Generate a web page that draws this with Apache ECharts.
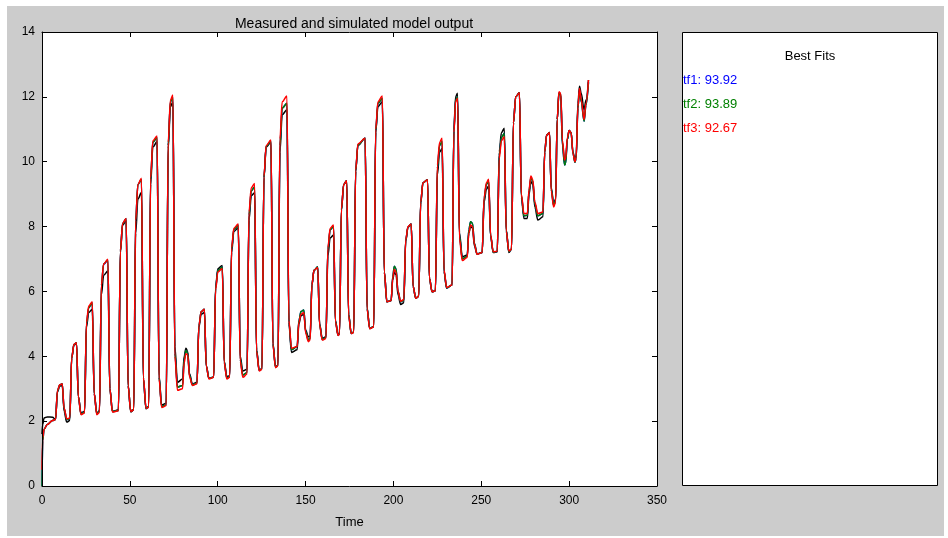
<!DOCTYPE html>
<html>
<head>
<meta charset="utf-8">
<script src="https://cdn.jsdelivr.net/npm/echarts@6/dist/echarts.min.js"></script>
<style>
html,body{margin:0;padding:0;background:#fff;}
#bg{position:absolute;left:7px;top:6px;width:937px;height:530px;background:#cccccc;}
#plotbg{position:absolute;left:42px;top:32px;width:615px;height:454px;background:#ffffff;}
#chart{position:absolute;left:0;top:0;width:948px;height:538px;}
</style>
</head>
<body>
<div id="bg"></div>
<div id="plotbg"></div>
<div id="chart"></div>
<script>
// sample times (shared by all series)
const time = [
0, 0.4, 1.2, 3, 6,
7.7, 8.8, 10.1, 11.5, 12.6, 14.1,
15.8, 16.9, 18.2, 19.6, 20.7, 22.2,
24.2, 25.3, 26.6, 28.6, 29.7, 31.2,
32.7, 33.8, 35.1, 37.5, 38.6, 40.1,
43.5, 44.6, 45.9, 47.9, 49.0, 50.5,
52.2, 53.3, 54.6, 56.6, 57.7, 59.2,
60.7, 61.8, 63.1, 65.5, 66.6, 68.1,
70.7, 71.8, 73.1, 74.5, 75.6, 77.1,
80.0, 80.9, 81.9, 82.9, 84.0, 85.6,
88.2, 89.3, 90.6, 92.4, 93.5, 95.0,
97.7, 98.8, 100.1, 102.6, 103.7, 105.2,
106.8, 107.9, 109.2, 111.7, 112.8, 114.3,
116.7, 117.8, 119.1, 121.0, 122.1, 123.6,
125.2, 126.3, 127.6, 130.3, 131.4, 132.9,
134.3, 135.4, 136.7, 139.4, 140.5, 142.0,
145.2, 146.2, 147.4, 149.0, 150.1, 151.6,
152.6, 153.6, 154.8, 156.9, 158.0, 159.5,
161.6, 162.7, 164.0, 165.9, 167.0, 168.5,
169.3, 170.4, 171.7, 173.4, 174.5, 176.0,
177.4, 178.5, 179.8, 183.9, 185.0, 186.5,
188.8, 189.9, 191.2, 193.7, 194.8, 196.3,
198.7, 199.6, 200.5, 201.5, 202.6, 204.1,
205.9, 207.0, 208.3, 210.1, 211.2, 212.7,
214.4, 215.5, 216.8, 219.4, 220.5, 222.0,
223.9, 225.0, 226.3, 227.7, 228.8, 230.3,
233.4, 234.4, 235.4, 236.5, 237.6, 239.2,
242.0, 242.9, 243.9, 245.0, 246.1, 247.6,
250.5, 251.6, 252.9, 254.2, 255.3, 256.8,
259.1, 260.2, 261.5, 263.1, 264.2, 265.7,
267.2, 268.3, 269.6, 271.7, 272.8, 274.3,
276.2, 277.2, 278.2, 279.3, 280.5, 282.2,
285.1, 286.1, 287.2, 288.8, 289.8, 291.2,
292.3, 293.2, 294.2, 295.2, 296.2, 297.4,
298.0, 299.0, 300.0, 301.1, 302.2, 303.3,
304.0, 305.0, 305.9, 306.9, 308.5, 309.6, 311.0
];

// measured output (black)
const measured = [
1.6, 1.9, 2.1, 2.13, 2.12,
2.05, 2.9, 3.08, 3.1, 2.3, 1.97,
2.02, 3.95, 4.35, 4.4, 2.75, 2.25,
2.3, 4.9, 5.35, 5.45, 2.85, 2.25,
2.32, 5.9, 6.5, 6.63, 3.0, 2.3,
2.35, 7.2, 8.05, 8.18, 3.1, 2.28,
2.35, 7.8, 8.85, 9.05, 3.3, 2.38,
2.45, 9.3, 10.45, 10.62, 3.4, 2.5,
2.55, 10.4, 11.7, 11.85, 4.3, 3.2,
3.3, 4.0, 4.25, 4.15, 3.45, 3.15,
3.2, 4.9, 5.3, 5.35, 3.7, 3.32,
3.35, 6.15, 6.7, 6.8, 3.85, 3.37,
3.4, 7.2, 7.85, 7.96, 4.0, 3.55,
3.6, 8.2, 8.95, 9.04, 4.2, 3.58,
3.62, 9.5, 10.45, 10.6, 4.4, 3.68,
3.72, 10.3, 11.45, 11.6, 5.0, 4.12,
4.2, 5.0, 5.25, 5.3, 4.8, 4.6,
4.62, 6.2, 6.65, 6.74, 5.0, 4.55,
4.6, 7.1, 7.65, 7.74, 5.1, 4.66,
4.7, 8.5, 9.3, 9.41, 5.3, 4.71,
4.75, 9.7, 10.5, 10.72, 5.5, 4.86,
4.92, 10.9, 11.7, 11.85, 6.6, 5.68,
5.72, 6.35, 6.6, 6.5, 5.9, 5.6,
5.65, 7.55, 7.98, 8.08, 6.15, 5.79,
5.85, 8.7, 9.35, 9.44, 6.4, 5.99,
6.02, 9.6, 10.3, 10.41, 6.6, 6.1,
6.2, 11.0, 12.0, 12.11, 7.8, 7.07,
7.12, 7.8, 8.0, 7.95, 7.4, 7.15,
7.2, 8.75, 9.15, 9.25, 7.7, 7.2,
7.22, 10.3, 10.9, 11.03, 7.9, 7.2,
7.3, 11.2, 12.0, 12.13, 8.9, 8.25,
8.25, 9.0, 9.39, 9.3, 8.6, 8.2,
8.3, 10.3, 10.82, 10.9, 9.2, 8.72,
8.85, 11.3, 12.1, 12.1, 10.6, 10.0,
10.05, 10.7, 10.96, 10.9, 10.3, 10.05,
10.2, 11.8, 12.33, 12.1, 11.6, 11.9, 12.52
];

// tf1 simulated (blue)
const tf1 = [
0, 1.4, 1.75, 1.9, 2.02,
2.05, 2.93, 3.12, 3.15, 2.38, 2.05,
2.08, 3.95, 4.36, 4.42, 2.75, 2.22,
2.27, 5.0, 5.5, 5.64, 2.85, 2.22,
2.3, 6.2, 6.84, 6.96, 3.0, 2.3,
2.33, 7.25, 8.1, 8.24, 3.1, 2.32,
2.36, 8.2, 9.3, 9.45, 3.3, 2.4,
2.44, 9.45, 10.6, 10.75, 3.35, 2.45,
2.5, 10.5, 11.85, 12.0, 4.1, 3.05,
3.1, 3.9, 4.18, 4.1, 3.4, 3.12,
3.17, 4.95, 5.38, 5.45, 3.7, 3.32,
3.36, 6.1, 6.65, 6.75, 3.82, 3.33,
3.37, 7.3, 7.92, 8.04, 3.9, 3.42,
3.5, 8.35, 9.1, 9.22, 4.18, 3.57,
3.61, 9.52, 10.48, 10.64, 4.38, 3.67,
3.71, 10.5, 11.65, 11.8, 5.05, 4.2,
4.3, 5.1, 5.38, 5.43, 4.75, 4.5,
4.55, 6.2, 6.65, 6.76, 4.97, 4.52,
4.57, 7.3, 7.9, 8.0, 5.08, 4.65,
4.69, 8.52, 9.3, 9.41, 5.27, 4.7,
4.74, 9.72, 10.52, 10.72, 5.47, 4.86,
4.91, 10.95, 11.8, 11.95, 6.6, 5.68,
5.72, 6.45, 6.78, 6.7, 6.0, 5.68,
5.73, 7.58, 7.99, 8.08, 6.15, 5.79,
5.85, 8.75, 9.35, 9.44, 6.4, 5.99,
6.02, 9.8, 10.5, 10.62, 6.62, 6.11,
6.2, 10.95, 11.9, 12.0, 7.7, 7.0,
7.08, 7.9, 8.15, 8.1, 7.48, 7.16,
7.2, 8.85, 9.3, 9.4, 7.72, 7.21,
7.23, 10.2, 10.75, 10.88, 7.87, 7.23,
7.3, 11.2, 12.0, 12.13, 8.95, 8.33,
8.35, 9.1, 9.5, 9.4, 8.7, 8.33,
8.4, 10.3, 10.82, 10.9, 9.15, 8.65,
8.8, 11.3, 12.13, 12.05, 10.5, 9.9,
9.95, 10.7, 10.96, 10.9, 10.25, 9.98,
10.1, 11.65, 12.2, 11.85, 11.25, 11.75, 12.45
];

// tf2 simulated (green)
const tf2 = [
0, 1.4, 1.75, 1.9, 2.02,
2.05, 2.93, 3.12, 3.15, 2.38, 2.05,
2.08, 3.95, 4.36, 4.42, 2.75, 2.22,
2.27, 5.0, 5.5, 5.65, 2.85, 2.22,
2.3, 6.2, 6.85, 6.97, 3.0, 2.3,
2.33, 7.25, 8.1, 8.24, 3.1, 2.32,
2.36, 8.2, 9.3, 9.45, 3.3, 2.4,
2.44, 9.45, 10.6, 10.75, 3.35, 2.45,
2.5, 10.5, 11.85, 12.0, 4.1, 3.05,
3.1, 3.9, 4.18, 4.1, 3.4, 3.12,
3.17, 4.95, 5.38, 5.45, 3.7, 3.32,
3.36, 6.1, 6.65, 6.75, 3.82, 3.33,
3.37, 7.3, 7.92, 8.04, 3.9, 3.42,
3.5, 8.35, 9.1, 9.22, 4.18, 3.57,
3.61, 9.52, 10.48, 10.64, 4.38, 3.67,
3.71, 10.5, 11.65, 11.8, 5.05, 4.2,
4.3, 5.1, 5.38, 5.43, 4.75, 4.5,
4.55, 6.2, 6.65, 6.76, 4.97, 4.52,
4.57, 7.3, 7.9, 8.0, 5.08, 4.65,
4.69, 8.52, 9.3, 9.41, 5.27, 4.7,
4.74, 9.72, 10.52, 10.72, 5.47, 4.86,
4.91, 10.95, 11.8, 11.95, 6.6, 5.68,
5.72, 6.45, 6.78, 6.7, 6.0, 5.68,
5.73, 7.58, 7.99, 8.08, 6.15, 5.79,
5.85, 8.75, 9.35, 9.44, 6.4, 5.99,
6.02, 9.8, 10.5, 10.62, 6.62, 6.11,
6.2, 10.95, 11.9, 12.0, 7.7, 7.0,
7.08, 7.9, 8.15, 8.1, 7.48, 7.16,
7.2, 8.85, 9.3, 9.4, 7.72, 7.21,
7.23, 10.2, 10.75, 10.88, 7.87, 7.23,
7.3, 11.2, 12.0, 12.13, 8.95, 8.33,
8.35, 9.1, 9.5, 9.4, 8.7, 8.33,
8.4, 10.3, 10.82, 10.9, 9.15, 8.65,
8.8, 11.3, 12.13, 12.05, 10.5, 9.9,
9.95, 10.7, 10.96, 10.9, 10.25, 9.98,
10.1, 11.65, 12.2, 11.85, 11.25, 11.75, 12.45
];

// tf3 simulated (red)
const tf3 = [
0.5, 1.5, 1.75, 1.9, 2.02,
2.05, 2.95, 3.12, 3.15, 2.4, 2.07,
2.1, 3.95, 4.37, 4.42, 2.75, 2.2,
2.25, 5.05, 5.55, 5.68, 2.85, 2.2,
2.27, 6.2, 6.85, 6.99, 3.0, 2.28,
2.32, 7.25, 8.1, 8.25, 3.1, 2.3,
2.35, 8.2, 9.3, 9.49, 3.35, 2.4,
2.42, 9.5, 10.65, 10.79, 3.3, 2.42,
2.48, 10.6, 11.9, 12.06, 4.0, 2.95,
3.0, 3.8, 4.08, 4.05, 3.35, 3.1,
3.15, 4.95, 5.38, 5.45, 3.7, 3.3,
3.35, 6.05, 6.6, 6.71, 3.8, 3.3,
3.35, 7.35, 7.95, 8.08, 3.85, 3.35,
3.45, 8.45, 9.2, 9.33, 4.15, 3.55,
3.6, 9.55, 10.5, 10.67, 4.35, 3.65,
3.7, 10.7, 11.85, 12.03, 5.1, 4.25,
4.3, 5.05, 5.3, 5.35, 4.7, 4.45,
4.5, 6.2, 6.65, 6.74, 4.95, 4.5,
4.55, 7.35, 7.95, 8.05, 5.05, 4.64,
4.68, 8.55, 9.3, 9.41, 5.25, 4.7,
4.73, 9.75, 10.55, 10.72, 5.45, 4.85,
4.9, 11.0, 11.85, 12.03, 6.6, 5.68,
5.72, 6.4, 6.68, 6.6, 6.0, 5.7,
5.75, 7.6, 8.0, 8.08, 6.15, 5.79,
5.85, 8.75, 9.35, 9.44, 6.4, 5.99,
6.02, 9.9, 10.6, 10.72, 6.65, 6.12,
6.2, 10.9, 11.85, 11.96, 7.6, 6.95,
7.05, 7.8, 8.05, 8.0, 7.45, 7.15,
7.2, 8.9, 9.35, 9.46, 7.75, 7.22,
7.24, 10.1, 10.65, 10.77, 7.85, 7.25,
7.3, 11.2, 12.0, 12.13, 9.0, 8.4,
8.4, 9.15, 9.56, 9.45, 8.75, 8.4,
8.45, 10.3, 10.82, 10.9, 9.1, 8.6,
8.75, 11.3, 12.16, 12.1, 10.65, 10.05,
10.1, 10.75, 10.96, 10.9, 10.25, 10.0,
10.15, 11.7, 12.26, 11.9, 11.3, 11.8, 12.52
];

const xTicks = [0, 50, 100, 150, 200, 250, 300, 350];
const yTicks = [0, 2, 4, 6, 8, 10, 12, 14];
const fitNames = ['tf1', 'tf2', 'tf3'];
const fitValues = ['93.92', '93.89', '92.67'];
const fitColors = ['#0000ff', '#008000', '#ff0000'];

const pts = vals => time.map((t, i) => [t, vals[i]]);
const FONT = '"Liberation Sans", Arial, sans-serif';

const chart = echarts.init(document.getElementById('chart'), null, {renderer: 'canvas'});

function axisBase(extra) {
  return Object.assign({
    type: 'value',
    splitLine: {show: false},
    axisLine: {show: true, onZero: false, lineStyle: {color: '#000', width: 1}},
    axisTick: {show: true, inside: true, length: 5, lineStyle: {color: '#000', width: 1}},
    z: 5
  }, extra);
}

const lineSeries = (name, vals, color) => ({
  name, type: 'line', data: pts(vals), showSymbol: false, symbol: 'none',
  smooth: 0.35, smoothMonotone: 'x',
  lineStyle: {color, width: 1.5}, itemStyle: {color},
  xAxisIndex: 0, yAxisIndex: 0, animation: false, z: 2
});

chart.setOption({
  backgroundColor: 'transparent',
  animation: false,
  title: {
    text: 'Measured and simulated model output',
    left: 349, top: 12, textAlign: 'center',
    textStyle: {fontFamily: FONT, fontSize: 14, fontWeight: 'normal', color: '#000'}
  },
  grid: {left: 42, top: 32, width: 615, height: 454, show: false},
  xAxis: [
    axisBase({
      position: 'bottom', min: xTicks[0], max: xTicks[xTicks.length - 1], interval: 50,
      axisLabel: {fontFamily: FONT, fontSize: 12, color: '#000', margin: 9},
      name: 'Time', nameLocation: 'middle', nameGap: 30,
      nameTextStyle: {fontFamily: FONT, fontSize: 13, color: '#000'}
    }),
    axisBase({
      position: 'top', min: xTicks[0], max: xTicks[xTicks.length - 1], interval: 50,
      axisLabel: {show: false}
    })
  ],
  yAxis: [
    axisBase({
      position: 'left', min: yTicks[0], max: yTicks[yTicks.length - 1], interval: 2,
      axisLabel: {fontFamily: FONT, fontSize: 12, color: '#000', margin: 7}
    }),
    axisBase({
      position: 'right', min: yTicks[0], max: yTicks[yTicks.length - 1], interval: 2,
      axisLabel: {show: false}
    })
  ],
  series: [
    lineSeries('Measured', measured, '#000000'),
    lineSeries(fitNames[0], tf1, fitColors[0]),
    lineSeries(fitNames[1], tf2, fitColors[1]),
    lineSeries(fitNames[2], tf3, fitColors[2])
  ],
  graphic: [
    {type: 'rect', shape: {x: 682.5, y: 32.5, width: 255, height: 453},
     style: {fill: '#ffffff', stroke: '#000', lineWidth: 1}, z: 1},
    {type: 'text', x: 810, y: 56, z: 2,
     style: {text: 'Best Fits', fontFamily: FONT, fontSize: 13, fill: '#000', textAlign: 'center', textVerticalAlign: 'middle'}},
  ].concat(fitNames.map((n, i) => ({
    type: 'text', x: 683, y: 80 + i * 24, z: 2,
    style: {text: n + ': ' + fitValues[i], fontFamily: FONT, fontSize: 13, fill: fitColors[i], textAlign: 'left', textVerticalAlign: 'middle'}
  })))
});
</script>
</body>
</html>
